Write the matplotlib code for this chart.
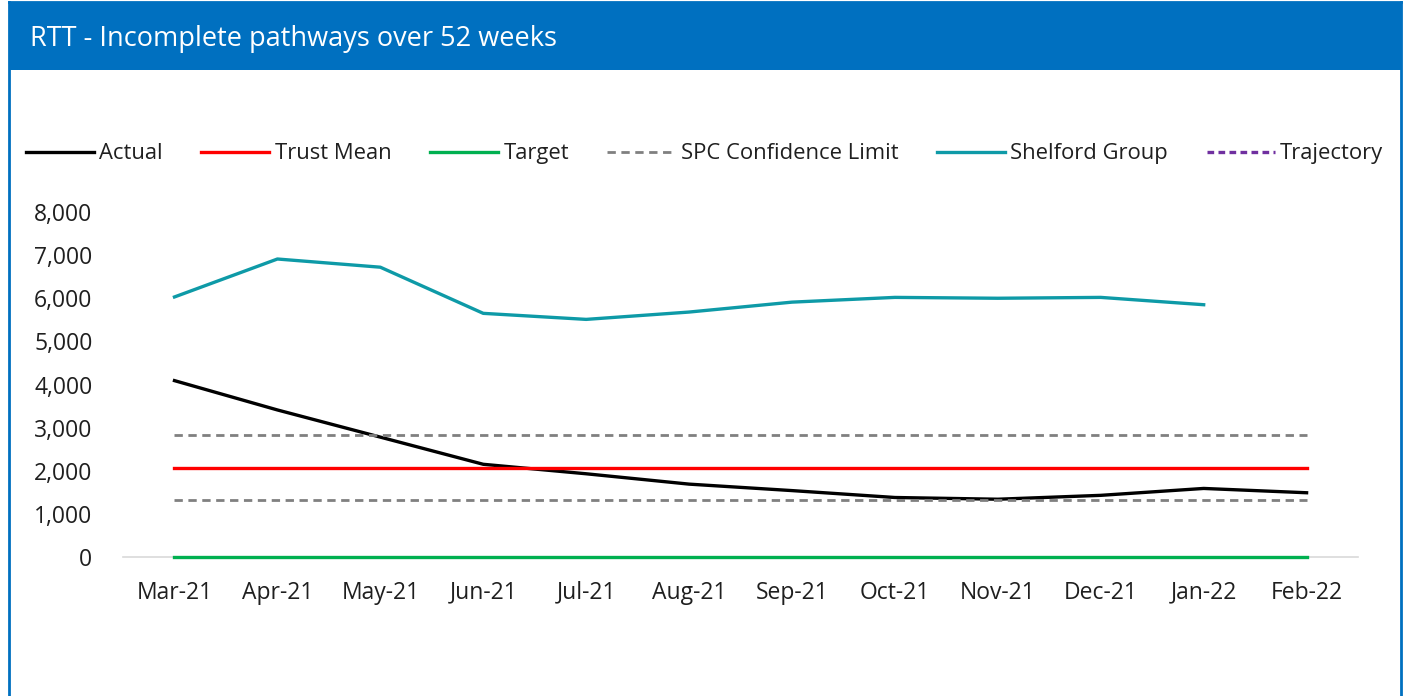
import numpy as np
import matplotlib
matplotlib.use("Agg")
from matplotlib import pyplot as plt
from matplotlib.lines import Line2D
import matplotlib.patches as patches

months = ['Mar-21', 'Apr-21', 'May-21', 'Jun-21', 'Jul-21', 'Aug-21',
          'Sep-21', 'Oct-21', 'Nov-21', 'Dec-21', 'Jan-22', 'Feb-22']

actual = [4090, 3410, 2780, 2150, 1930, 1690, 1540, 1380, 1340, 1430, 1590, 1490]
trust_mean = [2060] * 12
target = [0] * 12
spc_upper = [2830] * 12
spc_lower = [1320] * 12
shelford = [6030, 6910, 6720, 5650, 5510, 5680, 5910, 6020, 6000, 6020, 5850, np.nan]
trajectory = [np.nan] * 12

plt.rcParams['font.family'] = ['Open Sans', 'DejaVu Sans']

fig = plt.figure(figsize=(14.06, 6.96), dpi=100)

# frame (left, right, top) and title bar
blue = '#0070C0'
x0, x1 = 0.0064, 0.9965
for xs, ys in [([x0, x0], [0, 0.997]), ([x1, x1], [0, 0.997]), ([x0, x1], [0.997, 0.997])]:
    fig.add_artist(Line2D(xs, ys, transform=fig.transFigure, color=blue, lw=2))
fig.patches.append(patches.Rectangle((x0, 0.899), x1 - x0, 0.098, transform=fig.transFigure,
                                     facecolor=blue, edgecolor='none'))
fig.text(0.021, 0.944, 'RTT - Incomplete pathways over 52 weeks', color='white',
         fontsize=19.5, va='center', ha='left')

ax = fig.add_axes([0.0875, 0.1997, 0.8784, 0.4957])
x = np.arange(len(months))

ax.plot(x, actual, color='black', lw=2.4, label='Actual')
ax.plot(x, trust_mean, color='#FF0000', lw=2.4, label='Trust Mean')
ax.plot(x, target, color='#00B050', lw=2.4, label='Target', zorder=3, clip_on=False)
ax.plot(x, spc_upper, color='#808080', lw=2.0, ls=(0, (3, 2)), label='SPC Confidence Limit')
ax.plot(x, spc_lower, color='#808080', lw=2.0, ls=(0, (3, 2)))
ax.plot(x, shelford, color='#0E9AA7', lw=2.4, label='Shelford Group')
ax.plot(x, trajectory, color='#7030A0', lw=2.4, ls=(0, (2, 1.3)), label='Trajectory')

ax.set_xlim(-0.5, 11.5)
ax.set_ylim(0, 8000)
ax.set_yticks(np.arange(0, 8001, 1000))
ax.set_yticklabels([f'{v:,}' for v in range(0, 8001, 1000)])
ax.set_xticks(x)
ax.set_xticklabels(months)
ax.tick_params(length=0, labelsize=16.5, colors='#1f1f1f')
ax.tick_params(axis='x', pad=17)
ax.tick_params(axis='y', pad=22)
for s in ['top', 'right', 'left']:
    ax.spines[s].set_visible(False)
ax.spines['bottom'].set_color('#D9D9D9')
ax.spines['bottom'].set_linewidth(1.2)

fig.legend(loc='center', bbox_to_anchor=(0.501, 0.779), ncol=6, frameon=False,
           fontsize=15.8, handlelength=3.1, columnspacing=1.75, handletextpad=0.25,
           labelcolor='#1f1f1f')

fig.savefig('out.png', dpi=100, facecolor='white')
